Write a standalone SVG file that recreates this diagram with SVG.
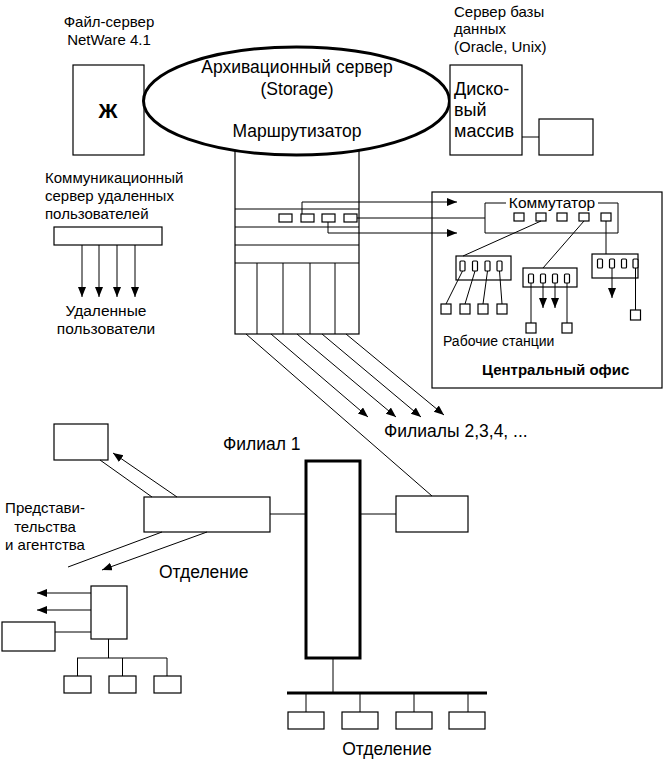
<svg xmlns="http://www.w3.org/2000/svg" width="666" height="763" viewBox="0 0 666 763">
<defs>
<marker id="ah" markerUnits="userSpaceOnUse" markerWidth="11" markerHeight="9" refX="10" refY="4" orient="auto">
<path d="M0,0 L10,4 L0,8 z" fill="#000"/>
</marker>
<style>
.b{fill:#fff;stroke:#000;stroke-width:1.2}
.ln{fill:none;stroke:#000;stroke-width:1}
.ar{fill:none;stroke:#000;stroke-width:1;marker-end:url(#ah)}
.thick{fill:#fff;stroke:#000;stroke-width:3}
text{font-family:"Liberation Sans",Arial,sans-serif;fill:#000}
.t14{font-size:15px}
.t16{font-size:17.5px}
.c{text-anchor:middle}
</style>
</defs>
<rect width="666" height="763" fill="#fff"/>

<g id="file-server">
<rect class="b" x="73" y="65" width="71" height="90"/>
<text x="108" y="118" class="c" style="font-size:21px;font-weight:bold">Ж</text>
<text x="109" y="27" class="t14 c">Файл-сервер</text>
<text x="109" y="45" class="t14 c">NetWare 4.1</text>
</g>

<g id="router-tower">
<rect class="b" x="235" y="148" width="124" height="186"/>
<line class="ln" x1="235" y1="209" x2="359" y2="209"/>
<line class="ln" x1="235" y1="227" x2="359" y2="227"/>
<line class="ln" x1="235" y1="245" x2="359" y2="245"/>
<line class="ln" x1="235" y1="263" x2="359" y2="263"/>
<line class="ln" x1="257" y1="263" x2="257" y2="334"/>
<line class="ln" x1="283" y1="263" x2="283" y2="334"/>
<line class="ln" x1="310" y1="263" x2="310" y2="334"/>
<line class="ln" x1="335" y1="263" x2="335" y2="334"/>
<rect class="b" x="279" y="214" width="13" height="8"/>
<rect class="b" x="301" y="214" width="13" height="8"/>
<rect class="b" x="322" y="214" width="13" height="8"/>
<rect class="b" x="344" y="214" width="13" height="8"/>
</g>

<g id="archive-server">
<ellipse cx="296.5" cy="101" rx="153" ry="54" fill="#fff" stroke="#000" stroke-width="3"/>
<text x="297" y="73" class="t16 c">Архивационный сервер</text>
<text x="297" y="95" class="t16 c">(Storage)</text>
<text x="297" y="137" class="t16 c">Маршрутизатор</text>
</g>

<g id="db-server">
<text x="454" y="17" class="t14">Сервер базы</text>
<text x="454" y="34" class="t14">данных</text>
<text x="454" y="52" class="t14">(Oracle, Unix)</text>
<rect class="b" x="450" y="65" width="72" height="90"/>
<text x="454" y="95" style="font-size:18px">Диско-</text>
<text x="454" y="116" style="font-size:18px">вый</text>
<text x="454" y="137" style="font-size:18px">массив</text>
<rect class="b" x="539" y="119" width="54" height="36"/>
</g>

<g id="comm-server">
<text x="45" y="183" class="t14">Коммуникационный</text>
<text x="45" y="201" class="t14">сервер удаленных</text>
<text x="45" y="219" class="t14">пользователей</text>
<rect class="b" x="54" y="227" width="108" height="18"/>
<text x="106" y="316" class="c" style="font-size:15.5px">Удаленные</text>
<text x="106" y="334" class="c" style="font-size:15.5px">пользователи</text>
</g>

<g id="central-office">
<rect class="b" x="432" y="192" width="230" height="196"/>
<path class="ln" d="M506,203 H485 V233 H618 V203 H598"/>
<text x="552" y="208" class="c" style="font-size:15.5px">Коммутатор</text>
<rect class="b" x="514" y="213" width="10" height="8"/>
<rect class="b" x="536" y="213" width="10" height="8"/>
<rect class="b" x="557" y="213" width="10" height="8"/>
<rect class="b" x="579" y="213" width="10" height="8"/>
<rect class="b" x="601" y="213" width="10" height="8"/>

<rect class="b" x="456" y="256" width="55" height="24"/>
<rect class="b" x="460" y="261" width="5" height="10" rx="1"/>
<rect class="b" x="472.5" y="261" width="5" height="10" rx="1"/>
<rect class="b" x="485" y="261" width="5" height="10" rx="1"/>
<rect class="b" x="497" y="261" width="5" height="10" rx="1"/>
<rect class="b" x="441" y="304" width="10" height="10"/>
<rect class="b" x="460" y="304" width="10" height="10"/>
<rect class="b" x="478" y="304" width="10" height="10"/>
<rect class="b" x="497" y="304" width="10" height="10"/>

<rect class="b" x="523" y="268" width="54" height="19"/>
<rect class="b" x="528.5" y="274" width="5" height="9" rx="1"/>
<rect class="b" x="540.5" y="274" width="5" height="9" rx="1"/>
<rect class="b" x="552.5" y="274" width="5" height="9" rx="1"/>
<rect class="b" x="564.5" y="274" width="5" height="9" rx="1"/>
<rect class="b" x="526" y="323" width="10" height="10"/>
<rect class="b" x="562" y="323" width="10" height="10"/>

<rect class="b" x="592" y="254" width="46" height="24"/>
<rect class="b" x="597.5" y="259" width="5" height="9" rx="1"/>
<rect class="b" x="609.5" y="259" width="5" height="9" rx="1"/>
<rect class="b" x="621.5" y="259" width="5" height="9" rx="1"/>
<rect class="b" x="633" y="259" width="5" height="9" rx="1"/>
<rect class="b" x="630.5" y="310" width="10" height="10"/>

<text x="443" y="346" style="font-size:14px">Рабочие станции</text>
<text x="482" y="375" class="t14" style="font-weight:bold">Центральный офис</text>
</g>

<g id="branch1">
<text x="223" y="450" class="t16">Филиал 1</text>
<rect class="thick" x="306" y="461" width="54" height="197"/>
<rect class="b" x="144" y="497" width="126" height="35"/>
<rect class="b" x="396" y="496" width="72" height="36"/>
<rect class="b" x="54" y="424" width="54" height="36"/>
<text x="45" y="513" class="t14 c">Представи-</text>
<text x="45" y="532" class="t14 c">тельства</text>
<text x="45" y="550" class="t14 c">и агентства</text>
<text x="159" y="578" class="t16">Отделение</text>
</g>

<g id="dept-left">
<rect class="b" x="91" y="586" width="36" height="53"/>
<rect class="b" x="2" y="622" width="53" height="29"/>
<rect class="b" x="64" y="676" width="27" height="17"/>
<rect class="b" x="109" y="676" width="27" height="17"/>
<rect class="b" x="154" y="676" width="27" height="17"/>
</g>

<g id="dept-bottom">
<rect class="b" x="288" y="712" width="36" height="17"/>
<rect class="b" x="342" y="712" width="36" height="17"/>
<rect class="b" x="396" y="712" width="36" height="17"/>
<rect class="b" x="449" y="712" width="36" height="17"/>
<text x="387" y="755" class="t16 c">Отделение</text>
</g>

<text x="384" y="437" class="t16">Филиалы 2,3,4, ...</text>

<g id="connectors">
<path class="ar" d="M302,214 V202 H457"/>
<line class="ln" x1="357" y1="218" x2="485" y2="218"/>
<path class="ar" d="M328,222 V233 H457"/>
<line class="ln" x1="522" y1="137" x2="539" y2="137"/>

<line class="ar" x1="82" y1="245" x2="82" y2="297"/>
<line class="ar" x1="99" y1="245" x2="99" y2="297"/>
<line class="ar" x1="117" y1="245" x2="117" y2="297"/>
<line class="ar" x1="135" y1="245" x2="135" y2="297"/>

<line class="ln" x1="541" y1="221" x2="463" y2="256"/>
<line class="ln" x1="462.5" y1="271" x2="446" y2="304"/>
<line class="ln" x1="475" y1="271" x2="465" y2="304"/>
<line class="ln" x1="487.5" y1="271" x2="483" y2="304"/>
<line class="ln" x1="499.5" y1="271" x2="502" y2="304"/>
<line class="ln" x1="584" y1="221" x2="543" y2="268"/>
<line class="ln" x1="531" y1="283" x2="531" y2="323"/>
<line class="ar" x1="543" y1="283" x2="543" y2="308"/>
<line class="ar" x1="555" y1="283" x2="555" y2="308"/>
<line class="ln" x1="567" y1="283" x2="567" y2="323"/>
<line class="ln" x1="606" y1="221" x2="606" y2="254"/>
<line class="ar" x1="612" y1="268" x2="612" y2="298"/>
<line class="ln" x1="635.5" y1="268" x2="635.5" y2="310"/>

<line class="ln" x1="246" y1="334" x2="432" y2="496"/>
<line class="ar" x1="271" y1="334" x2="368" y2="417"/>
<line class="ar" x1="297" y1="334" x2="396" y2="417"/>
<line class="ar" x1="322" y1="334" x2="421" y2="417"/>
<line class="ar" x1="346" y1="334" x2="444" y2="415"/>

<line class="ln" x1="270" y1="514" x2="306" y2="514"/>
<line class="ln" x1="360" y1="514" x2="396" y2="514"/>
<line class="ln" x1="100" y1="460" x2="152" y2="497"/>
<line class="ar" x1="177" y1="497" x2="113" y2="453"/>
<line class="ln" x1="162" y1="532" x2="68" y2="567"/>
<line class="ar" x1="207" y1="532" x2="102" y2="570"/>

<line class="ar" x1="91" y1="593" x2="37" y2="593"/>
<line class="ar" x1="91" y1="610" x2="37" y2="610"/>
<line class="ln" x1="55" y1="632" x2="91" y2="632"/>
<line class="ln" x1="108.5" y1="639" x2="108.5" y2="658"/>
<line class="ln" x1="77" y1="658" x2="167" y2="658"/>
<line class="ln" x1="77.5" y1="658" x2="77.5" y2="676"/>
<line class="ln" x1="122.5" y1="658" x2="122.5" y2="676"/>
<line class="ln" x1="167" y1="658" x2="167" y2="676"/>

<line class="ln" x1="333" y1="658" x2="333" y2="693"/>
<line x1="287" y1="693" x2="487" y2="693" stroke="#000" stroke-width="3"/>
<line class="ln" x1="306" y1="693" x2="306" y2="712"/>
<line class="ln" x1="360" y1="693" x2="360" y2="712"/>
<line class="ln" x1="414" y1="693" x2="414" y2="712"/>
<line class="ln" x1="468" y1="693" x2="468" y2="712"/>
</g>
</svg>
